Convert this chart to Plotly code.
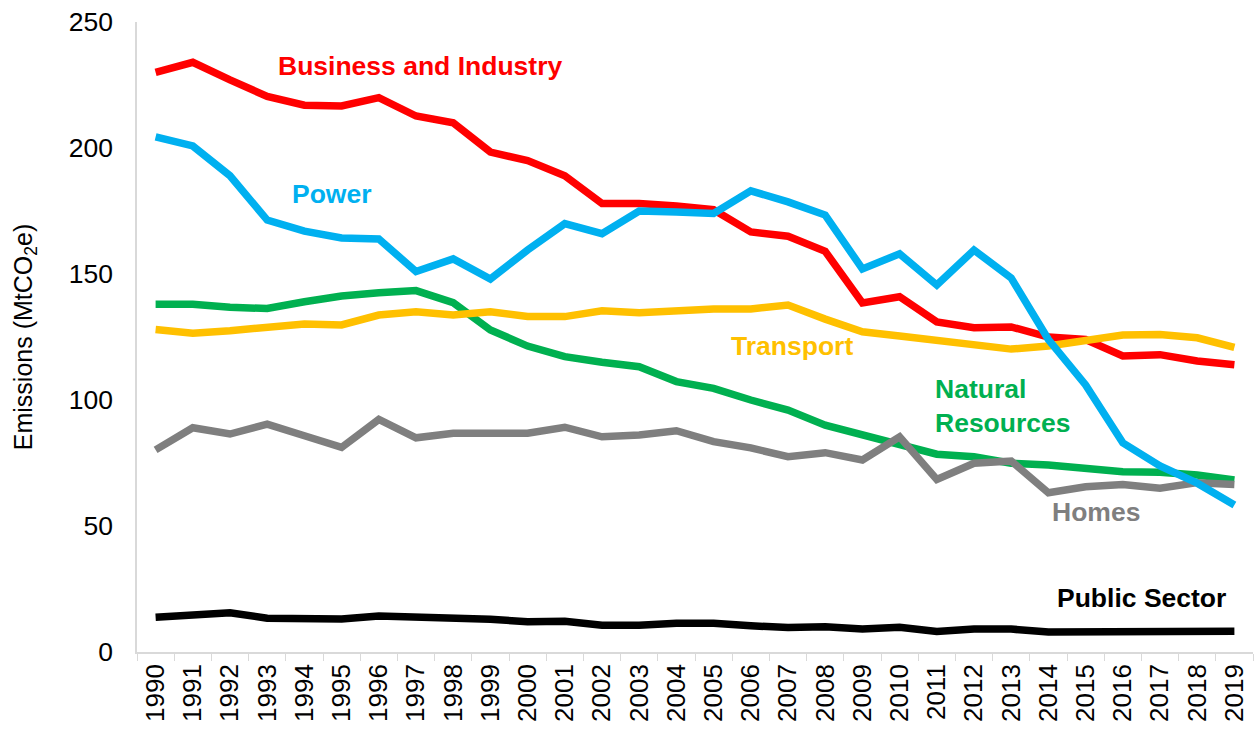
import plotly.graph_objects as go

years = [str(y) for y in range(1990, 2020)]

business_industry = [230.0, 234.0, 227.0, 220.5, 217.0, 216.7, 220.0, 212.7, 210.0, 198.4,
                     195.0, 189.0, 178.0, 178.0, 177.0, 175.5, 166.7, 165.0, 159.0, 138.5,
                     141.0, 131.0, 128.7, 129.0, 125.0, 124.0, 117.5, 118.0, 115.5, 114.0]
power = [204.4, 200.8, 189.0, 171.4, 167.0, 164.3, 163.9, 151.0, 156.0, 148.0,
         159.5, 170.0, 166.0, 175.0, 174.6, 174.0, 183.0, 178.6, 173.4, 152.0,
         158.0, 145.6, 159.5, 148.4, 124.0, 106.0, 83.0, 73.8, 67.0, 58.3]
transport = [128.0, 126.5, 127.5, 128.8, 130.2, 129.8, 133.7, 135.0, 133.7, 135.0,
             133.1, 133.1, 135.4, 134.6, 135.7, 136.1, 136.1, 137.7, 132.1, 127.1,
             125.4, 123.8, 122.2, 120.2, 121.4, 123.4, 125.8, 126.0, 124.7, 120.9]
natural_resources = [138.0, 138.0, 136.8, 136.3, 139.0, 141.3, 142.6, 143.4, 138.6, 127.8,
                     121.4, 117.2, 115.0, 113.2, 107.3, 104.6, 100.0, 96.0, 90.0, 86.0,
                     82.0, 78.5, 77.5, 74.9, 74.2, 72.9, 71.5, 71.3, 70.2, 68.3]
homes = [80.2, 89.0, 86.5, 90.4, 85.8, 81.2, 92.3, 85.0, 86.8, 86.7,
         86.8, 89.2, 85.4, 86.1, 87.8, 83.5, 81.0, 77.5, 79.1, 76.2,
         85.4, 68.5, 74.9, 75.8, 63.2, 65.6, 66.5, 65.0, 67.2, 66.5]
public_sector = [13.8, 14.7, 15.6, 13.4, 13.2, 13.1, 14.3, 14.0, 13.0, 13.0,
                 12.0, 12.2, 10.6, 10.6, 11.4, 11.4, 10.4, 9.7, 10.0, 9.1,
                 9.8, 8.1, 9.1, 9.1, 7.9, 7.9, 8.1, 7.7, 7.9, 8.2]

series = [
    ("Public Sector", public_sector, "#000000"),
    ("Natural Resources", natural_resources, "#00B050"),
    ("Homes", homes, "#7F7F7F"),
    ("Business and Industry", business_industry, "#FF0000"),
    ("Transport", transport, "#FFC000"),
    ("Power", power, "#00B0F0"),
]

fig = go.Figure()
for name, vals, col in series:
    fig.add_trace(go.Scatter(x=years, y=vals, mode="lines", name=name,
                             line=dict(color=col, width=7.5), showlegend=False))

labels = [
    ("Business and Industry", 7.12, 232.5, "#FF0000", "center"),
    ("Power", 4.73, 181.9, "#00B0F0", "center"),
    ("Transport", 17.12, 121.6, "#FFC000", "center"),
    ("Natural<br>Resources", 20.89, 97.6, "#00B050", "left"),
    ("Homes", 25.27, 55.6, "#7F7F7F", "center"),
    ("Public Sector", 26.5, 21.4, "#000000", "center"),
]
for text, x, y, col, anchor in labels:
    fig.add_annotation(x=x, y=y, xref="x", yref="y", text="<b>%s</b>" % text,
                       showarrow=False, xanchor=anchor, yanchor="middle", align="left",
                       font=dict(family="Liberation Sans, Arial", size=26.5, color=col))

fig.update_layout(
    width=1254, height=731,
    margin=dict(l=137, r=1, t=22, b=79),
    plot_bgcolor="white", paper_bgcolor="white",
    font=dict(family="Liberation Sans, Arial", color="#000000"),
)
fig.update_xaxes(type="category", range=[-0.5, 29.5], tickangle=-90, automargin=False,
                 showline=True, linecolor="#D9D9D9", linewidth=1.5,
                 ticks="outside", tickson="boundaries", ticklen=7, tickcolor="#D9D9D9",
                 tickfont=dict(size=26), showgrid=False, zeroline=False)
fig.update_yaxes(range=[0, 250], tickvals=[0, 50, 100, 150, 200, 250], automargin=False,
                 showline=True, linecolor="#D9D9D9", linewidth=1.5, ticks="",
                 ticklabelstandoff=17, tickfont=dict(size=26.5),
                 showgrid=False, zeroline=False,
                 title=dict(text="Emissions (MtCO<sub>2</sub>e)", font=dict(size=25), standoff=29))

fig.write_html("out.html", config={"displayModeBar": False},
               post_script="document.body.style.margin='0px';document.body.style.overflow='hidden';")
